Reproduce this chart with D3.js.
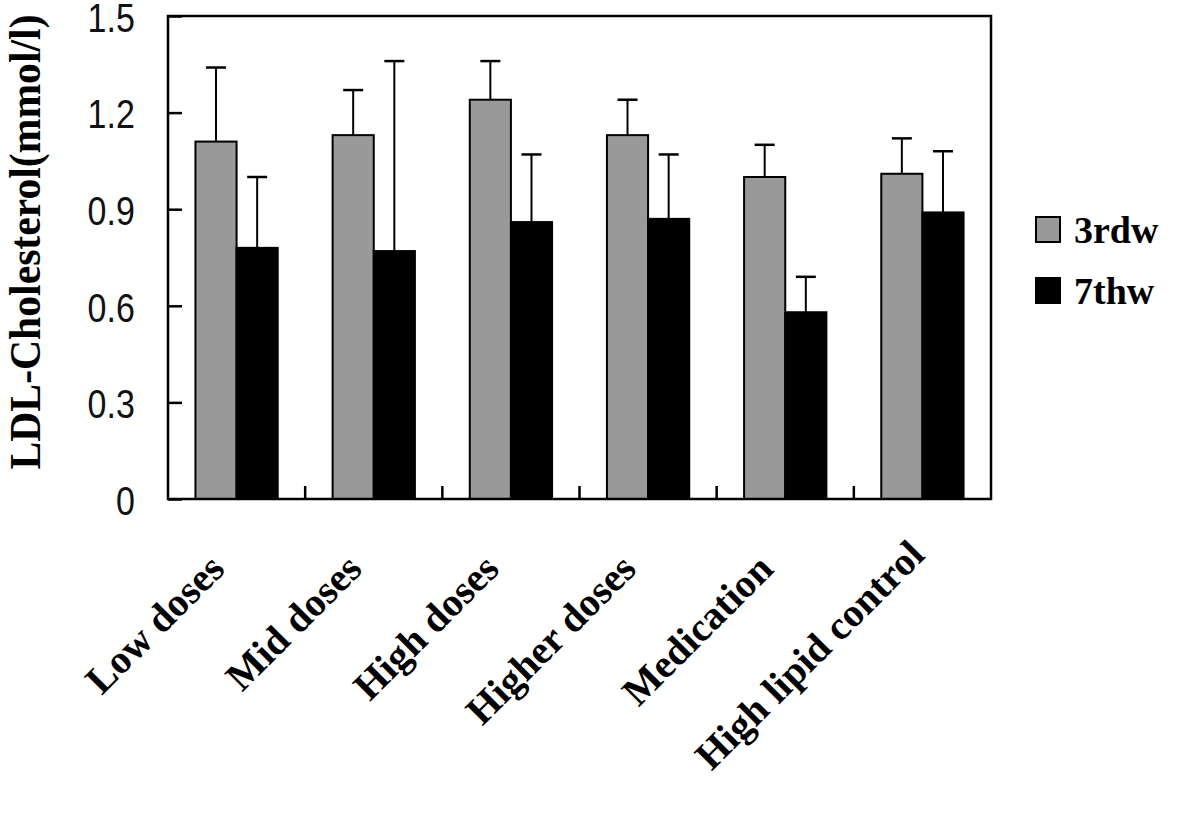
<!DOCTYPE html>
<html>
<head>
<meta charset="utf-8">
<script src="https://cdn.jsdelivr.net/npm/d3@7.9.0/dist/d3.min.js"></script>
<style>
  html, body { margin: 0; padding: 0; background: #fff; }
  svg { display: block; }
  .tick-label { font-family: "Liberation Sans", Arial, sans-serif; font-size: 40px; fill: #111; }
  .cat-label, .legend-label, .y-title { font-family: "Liberation Serif", "Times New Roman", serif; font-weight: bold; fill: #000; }
</style>
</head>
<body>
<svg id="chart" width="1200" height="829"></svg>
<script>
const categories = ['Low doses', 'Mid doses', 'High doses', 'Higher doses', 'Medication', 'High lipid control'];
const series = ['3rdw', '7thw'];
const week3 = [1.11, 1.13, 1.24, 1.13, 1.00, 1.01];
const week3Err = [0.23, 0.14, 0.12, 0.11, 0.10, 0.11];
const week7 = [0.78, 0.77, 0.86, 0.87, 0.58, 0.89];
const week7Err = [0.22, 0.59, 0.21, 0.20, 0.11, 0.19];
const yTicks = [0, 0.3, 0.6, 0.9, 1.2, 1.5];
const yTickLabels = ['0', '0.3', '0.6', '0.9', '1.2', '1.5'];
const colors = { '3rdw': '#999999', '7thw': '#000000' };

const svg = d3.select('#chart');
const margin = { left: 168, top: 16, right: 209, bottom: 330 };
const width = 1200 - margin.left - margin.right;
const height = 829 - margin.top - margin.bottom;

const x0 = d3.scaleBand().domain(categories).range([0, width]).paddingInner(0.4).paddingOuter(0.2);
const x1 = d3.scaleBand().domain(series).range([0, x0.bandwidth()]);
const y = d3.scaleLinear().domain([0, 1.5]).range([height, 0]);

const g = svg.append('g').attr('transform', `translate(${margin.left},${margin.top})`);

const rows = categories.map((c, i) => ({
  cat: c,
  vals: [
    { s: '3rdw', v: week3[i], e: week3Err[i] },
    { s: '7thw', v: week7[i], e: week7Err[i] }
  ]
}));

// bars
const groups = g.selectAll('.grp')
  .data(rows)
  .join('g')
  .attr('class', 'grp')
  .attr('transform', d => `translate(${x0(d.cat)},0)`);

groups.selectAll('rect')
  .data(d => d.vals)
  .join('rect')
  .attr('x', d => x1(d.s))
  .attr('y', d => y(d.v))
  .attr('width', x1.bandwidth())
  .attr('height', d => height - y(d.v))
  .attr('fill', d => colors[d.s])
  .attr('stroke', '#000')
  .attr('stroke-width', 2);

// error bars (upper only)
const err = groups.selectAll('.err')
  .data(d => d.vals)
  .join('g')
  .attr('class', 'err')
  .attr('transform', d => `translate(${x1(d.s) + x1.bandwidth() / 2},0)`);
err.append('line')
  .attr('y1', d => y(d.v))
  .attr('y2', d => y(d.v + d.e))
  .attr('stroke', '#000')
  .attr('stroke-width', 2);
err.append('line')
  .attr('x1', -10).attr('x2', 10)
  .attr('y1', d => y(d.v + d.e))
  .attr('y2', d => y(d.v + d.e))
  .attr('stroke', '#000')
  .attr('stroke-width', 2.5);

// y axis with inward ticks
const yAxis = d3.axisLeft(y)
  .tickValues(yTicks)
  .tickFormat((d, i) => yTickLabels[i])
  .tickSizeInner(-14)
  .tickSizeOuter(0)
  .tickPadding(39);
const ya = g.append('g').call(yAxis);
ya.select('.domain').remove();
ya.selectAll('line').attr('stroke', '#000').attr('stroke-width', 2.5);
// narrow, tall digits like the original
ya.selectAll('text')
  .attr('class', 'tick-label')
  .attr('dy', '0.38em')
  .attr('transform', 'scale(0.85,1)');

// category boundary ticks (inward)
const bounds = categories.slice(1).map(c => x0(c) - x0.step() * x0.paddingInner() / 2);
g.selectAll('.xtick')
  .data(bounds)
  .join('line')
  .attr('x1', d => d).attr('x2', d => d)
  .attr('y1', height).attr('y2', height - 13)
  .attr('stroke', '#000')
  .attr('stroke-width', 2.5);

// frame
g.append('rect')
  .attr('width', width)
  .attr('height', height)
  .attr('fill', 'none')
  .attr('stroke', '#000')
  .attr('stroke-width', 2.5);

// rotated category labels
g.selectAll('.cat-label')
  .data(categories)
  .join('text')
  .attr('class', 'cat-label')
  .attr('font-size', 40)
  .attr('text-anchor', 'end')
  .attr('transform', (d, i) => {
    // the long last label sits a little higher in the original
    const shift = i === categories.length - 1 ? 14 : 0;
    return `translate(${x0(d) + x0.bandwidth() / 2 - 10 + shift},${height + 72 - shift}) rotate(-45)`;
  })
  .text(d => d);

// y title
svg.append('text')
  .attr('class', 'y-title')
  .attr('font-size', 44)
  .attr('text-anchor', 'middle')
  .attr('transform', 'translate(40,242) rotate(-90)')
  .attr('textLength', 455)
  .attr('lengthAdjust', 'spacingAndGlyphs')
  .text('LDL-Cholesterol(mmol/l)');

// legend
const legend = svg.append('g').attr('transform', 'translate(1036,217)');
const li = legend.selectAll('g')
  .data(series)
  .join('g')
  .attr('transform', (d, i) => `translate(0,${i * 61})`);
li.append('rect')
  .attr('width', 24).attr('height', 25)
  .attr('fill', d => colors[d])
  .attr('stroke', '#000')
  .attr('stroke-width', 2);
li.append('text')
  .attr('class', 'legend-label')
  .attr('x', 38)
  .attr('y', 26)
  .attr('font-size', 38)
  .text(d => d);
</script>
</body>
</html>
